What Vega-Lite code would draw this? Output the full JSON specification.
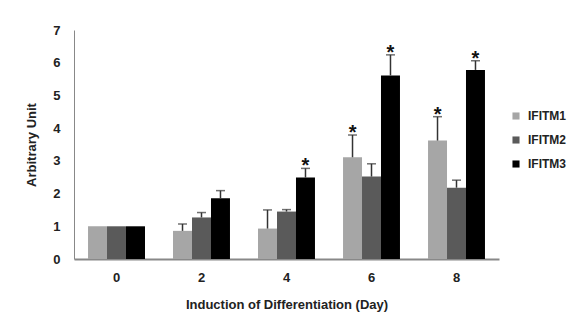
{
  "$schema": "https://vega.github.io/schema/vega-lite/v6.json",
  "width": 425,
  "height": 229,
  "autosize": "none",
  "padding": {"left": 74, "top": 30, "right": 84, "bottom": 71},
  "background": "white",
  "config": {
    "view": {"stroke": null},
    "font": "Liberation Sans",
    "axis": {"labelFont": "Liberation Sans", "labelFontWeight": "bold", "titleFont": "Liberation Sans", "titleFontWeight": "bold", "labelColor": "#222", "titleColor": "#222"}
  },
  "data": {
    "values": [
      {"day": "0", "gene": "IFITM1", "value": 1.0, "upper": null, "sig": ""},
      {"day": "0", "gene": "IFITM2", "value": 1.0, "upper": null, "sig": ""},
      {"day": "0", "gene": "IFITM3", "value": 1.0, "upper": null, "sig": ""},
      {"day": "2", "gene": "IFITM1", "value": 0.86, "upper": 1.07, "sig": ""},
      {"day": "2", "gene": "IFITM2", "value": 1.27, "upper": 1.42, "sig": ""},
      {"day": "2", "gene": "IFITM3", "value": 1.86, "upper": 2.09, "sig": ""},
      {"day": "4", "gene": "IFITM1", "value": 0.93, "upper": 1.5, "sig": ""},
      {"day": "4", "gene": "IFITM2", "value": 1.45, "upper": 1.51, "sig": ""},
      {"day": "4", "gene": "IFITM3", "value": 2.49, "upper": 2.77, "sig": "*"},
      {"day": "6", "gene": "IFITM1", "value": 3.11, "upper": 3.79, "sig": "*"},
      {"day": "6", "gene": "IFITM2", "value": 2.52, "upper": 2.91, "sig": ""},
      {"day": "6", "gene": "IFITM3", "value": 5.61, "upper": 6.24, "sig": "*"},
      {"day": "8", "gene": "IFITM1", "value": 3.62, "upper": 4.35, "sig": "*"},
      {"day": "8", "gene": "IFITM2", "value": 2.18, "upper": 2.41, "sig": ""},
      {"day": "8", "gene": "IFITM3", "value": 5.78, "upper": 6.06, "sig": "*"}
    ]
  },
  "encoding": {
    "x": {
      "field": "day",
      "type": "ordinal",
      "scale": {"paddingInner": 0.33, "paddingOuter": 0.165},
      "axis": {
        "title": "Induction of Differentiation (Day)",
        "titleFontSize": 13,
        "titlePadding": 14,
        "labelFontSize": 13,
        "labelAngle": 0,
        "labelPadding": 12,
        "ticks": false,
        "domainColor": "#888",
        "domainWidth": 2
      }
    },
    "xOffset": {"field": "gene", "type": "nominal", "scale": {"paddingInner": 0, "paddingOuter": 0}},
    "y": {
      "field": "value",
      "type": "quantitative",
      "scale": {"domain": [0, 7], "nice": false},
      "axis": {
        "title": "Arbitrary Unit",
        "titleFontSize": 13,
        "titlePadding": 14,
        "labelFontSize": 13,
        "labelPadding": 14,
        "values": [0, 1, 2, 3, 4, 5, 6, 7],
        "ticks": false,
        "grid": false,
        "domainColor": "#888",
        "domainWidth": 1
      }
    }
  },
  "layer": [
    {
      "mark": {"type": "bar"},
      "encoding": {
        "color": {
          "field": "gene",
          "type": "nominal",
          "scale": {"domain": ["IFITM1", "IFITM2", "IFITM3"], "range": ["#a6a6a6", "#5a5a5a", "#000000"]},
          "legend": {
            "title": null,
            "orient": "none",
            "legendX": 436,
            "legendY": 80,
            "symbolType": "square",
            "symbolSize": 50,
            "symbolStrokeWidth": 0,
            "labelFont": "Liberation Sans",
            "labelFontWeight": "bold",
            "labelFontSize": 12,
            "labelColor": "#222",
            "rowPadding": 12,
            "labelOffset": 6
          }
        }
      }
    },
    {
      "transform": [{"filter": "datum.upper != null"}],
      "mark": {"type": "rule", "color": "#333", "strokeWidth": 1.5},
      "encoding": {"y2": {"field": "upper"}}
    },
    {
      "transform": [{"filter": "datum.upper != null"}],
      "mark": {"type": "tick", "color": "#333", "thickness": 1.5, "size": 9, "orient": "horizontal"},
      "encoding": {"y": {"field": "upper", "type": "quantitative"}}
    },
    {
      "transform": [{"filter": "datum.sig == '*'"}],
      "mark": {"type": "text", "fontSize": 20, "fontWeight": "bold", "baseline": "bottom", "dy": 8, "color": "#111", "font": "Liberation Sans"},
      "encoding": {"y": {"field": "upper", "type": "quantitative"}, "text": {"field": "sig"}}
    }
  ]
}
